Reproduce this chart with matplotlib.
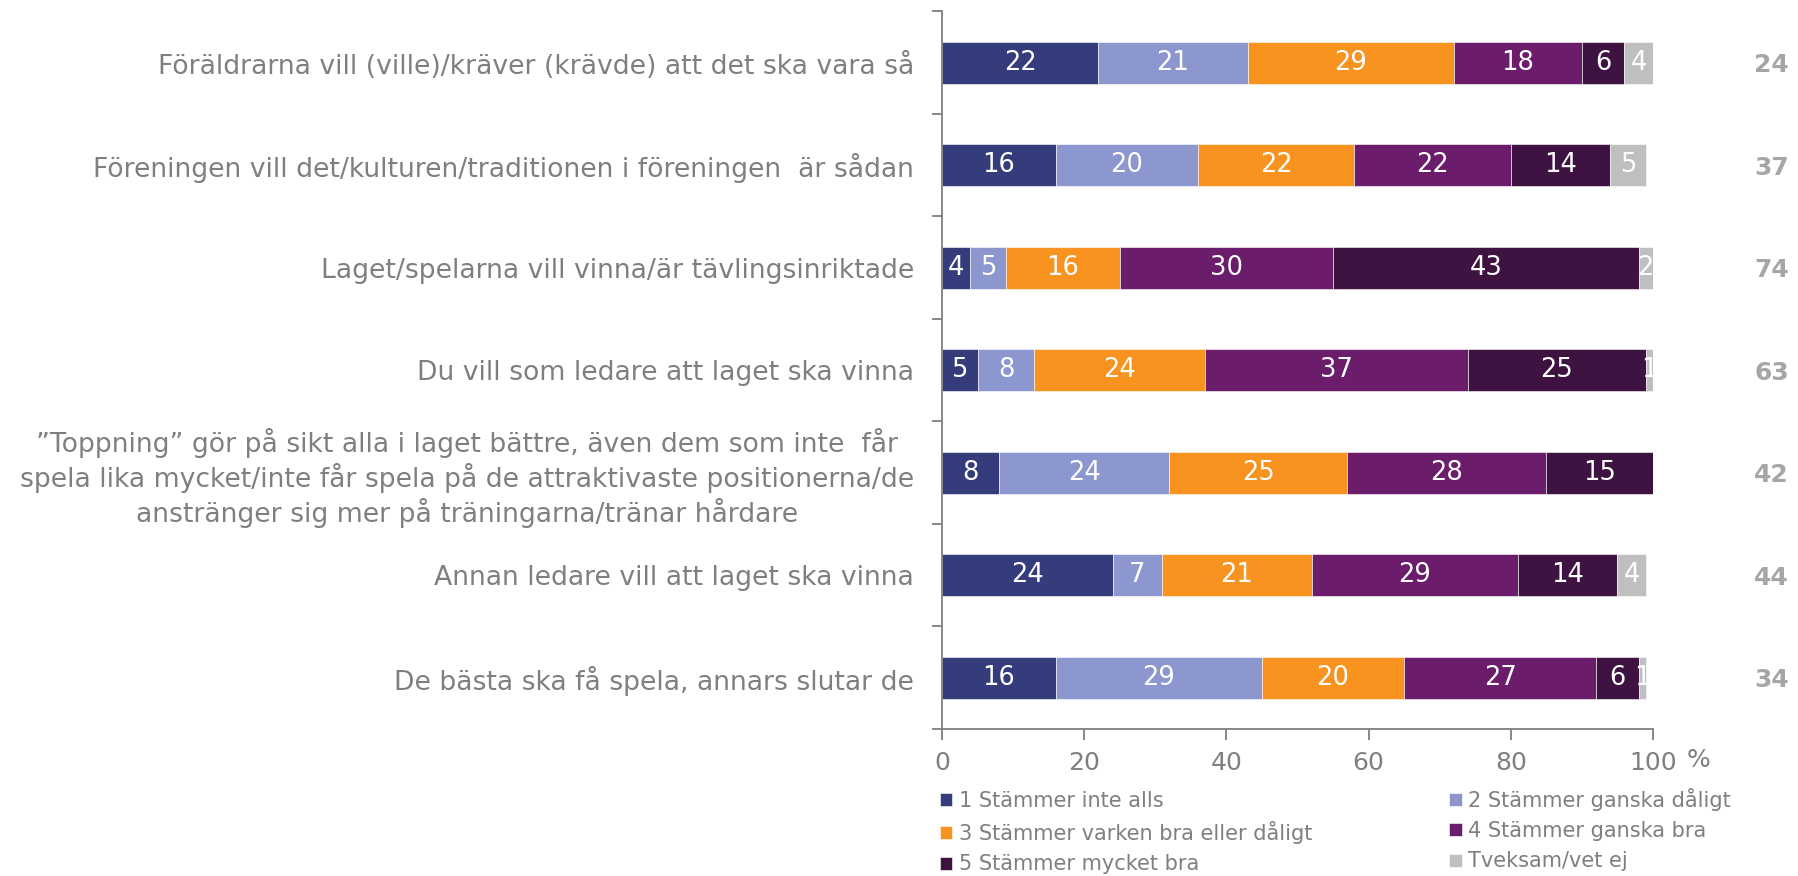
"""Stacked bar chart: reasons why teams play to win."""
import matplotlib.pyplot as plt
import numpy as np

CATEGORIES = [
    "Föräldrarna vill (ville)/kräver (krävde) att det ska vara så",
    "Föreningen vill det/kulturen/traditionen i föreningen  är sådan",
    "Laget/spelarna vill vinna/är tävlingsinriktade",
    "Du vill som ledare att laget ska vinna",
    "”Toppning” gör på sikt alla i laget bättre, även dem som inte  får\n"
    "spela lika mycket/inte får spela på de attraktivaste positionerna/de\n"
    "anstränger sig mer på träningarna/tränar hårdare",
    "Annan ledare vill att laget ska vinna",
    "De bästa ska få spela, annars slutar de",
]

SERIES = [
    "1 Stämmer inte alls",
    "2 Stämmer ganska dåligt",
    "3 Stämmer varken bra eller dåligt",
    "4 Stämmer ganska bra",
    "5 Stämmer mycket bra",
    "Tveksam/vet ej",
]

# one list per series, one value per category (top to bottom)
S1 = [22, 16, 4, 5, 8, 24, 16]
S2 = [21, 20, 5, 8, 24, 7, 29]
S3 = [29, 22, 16, 24, 25, 21, 20]
S4 = [18, 22, 30, 37, 28, 29, 27]
S5 = [6, 14, 43, 25, 15, 14, 6]
S6 = [4, 5, 2, 1, 0.4, 4, 1]

# numbers shown at the right of each bar
RIGHT_NUMBERS = [24, 37, 74, 63, 42, 44, 34]

COLORS = ["#353C7C", "#8C97D0", "#F7931E", "#6B1C6B", "#3E1341", "#BFBFBF"]
GREY = "#7F7F7F"

fig = plt.figure(figsize=(17.99, 8.76), dpi=100)
ax = fig.add_axes([0.5236, 0.168, 0.3952, 0.819])

y = np.arange(len(CATEGORIES))
left = np.zeros(len(CATEGORIES))
handles = []
for name, vals, color in zip(SERIES, [S1, S2, S3, S4, S5, S6], COLORS):
    vals = np.array(vals, dtype=float)
    bars = ax.barh(y, vals, left=left, height=0.41, color=color, label=name,
                   edgecolor="white", linewidth=0.4)
    handles.append(bars)
    labels = [f"{v:g}" if v >= 1 else "" for v in vals]
    ax.bar_label(bars, labels=labels, label_type="center", color="white",
                 fontsize=18.5)
    left += vals

ax.set_xlim(0, 100)
ax.set_ylim(len(CATEGORIES) - 0.5, -0.5)

# category labels on minor ticks, boundary ticks as major
ax.set_yticks(np.arange(-0.5, len(CATEGORIES)), [""] * (len(CATEGORIES) + 1))
ax.set_yticks(y, CATEGORIES, minor=True)
ax.tick_params(axis="y", which="minor", length=0, pad=20, labelsize=19.2,
               labelcolor=GREY)
ax.tick_params(axis="y", which="major", length=7, color=GREY, width=1.3)
for lbl in ax.get_yticklabels(minor=True):
    lbl.set_multialignment("center")

ax.set_xticks(np.arange(0, 101, 20))
ax.tick_params(axis="x", length=8, color=GREY, width=1.3, labelsize=18,
               labelcolor=GREY, pad=8)
ax.text(1.048, -0.043, "%", transform=ax.transAxes, fontsize=18, color=GREY,
        ha="left", va="center")

for side in ["top", "right"]:
    ax.spines[side].set_visible(False)
for side in ["left", "bottom"]:
    ax.spines[side].set_color(GREY)
    ax.spines[side].set_linewidth(1.3)

for yi, num in zip(y, RIGHT_NUMBERS):
    ax.text(1.167, yi, str(num), transform=ax.get_yaxis_transform(),
            fontsize=18, fontweight="bold", color="#A6A6A6", ha="center",
            va="center_baseline")

# legend filled row by row
order = [0, 2, 4, 1, 3, 5]
ax.legend([handles[i] for i in order], [SERIES[i] for i in order],
          ncol=2, loc="upper left", bbox_to_anchor=(-0.003, -0.082),
          frameon=False, fontsize=15, labelcolor=GREY, handlelength=0.6,
          handleheight=0.6, handletextpad=0.3, columnspacing=6.6,
          labelspacing=0.5, borderaxespad=0, borderpad=0)

plt.savefig("out.png", dpi=100)
plt.close()
